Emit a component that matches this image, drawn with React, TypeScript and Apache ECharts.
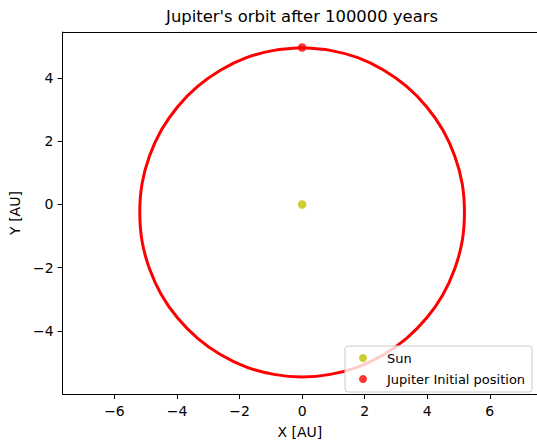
import React, { useEffect, useRef } from "react";
import * as echarts from "echarts";

// Orbit points (AU), listed around the ellipse
const orbitX = [0, 0.9, 1.78, 2.6, 3.34, 3.98, 4.5, 4.88, 5.12, 5.19, 5.12, 4.88, 4.5, 3.98, 3.34, 2.6, 1.78, 0.9,
  0, -0.9, -1.78, -2.6, -3.34, -3.98, -4.5, -4.88, -5.12, -5.19, -5.12, -4.88, -4.5, -3.98, -3.34, -2.6, -1.78, -0.9, 0];
const orbitY = [4.95, 4.87, 4.64, 4.25, 3.73, 3.09, 2.35, 1.53, 0.65, -0.25, -1.15, -2.03, -2.85, -3.59, -4.23, -4.75, -5.14, -5.37,
  -5.45, -5.37, -5.14, -4.75, -4.23, -3.59, -2.85, -2.03, -1.15, -0.25, 0.65, 1.53, 2.35, 3.09, 3.73, 4.25, 4.64, 4.87, 4.95];
const sunPos = [0, 0];
const jupiterStart = [0, 4.96];
const xTicks = [-6, -4, -2, 0, 2, 4, 6];
const yTicks = [-4, -2, 0, 2, 4];
const legendNames = ["Sun", "Jupiter Initial position"];

const FONT = "DejaVu Sans";
const fmt = (v: number) => (v < 0 ? "\u2212" + Math.abs(v) : String(v));

export default function App() {
  const ref = useRef<HTMLDivElement>(null);
  useEffect(() => {
    document.body.style.margin = "0";
    const chart = echarts.init(ref.current!, null, { renderer: "svg" });
    const axisCommon = {
      axisLine: { show: true, onZero: false, lineStyle: { color: "#000", width: 1 } },
      axisTick: { show: true, inside: false, length: 5, lineStyle: { color: "#000", width: 1 } },
      splitLine: { show: false },
    };
    chart.setOption({
      animation: false,
      backgroundColor: "#fff",
      title: {
        text: "Jupiter's orbit after 100000 years",
        left: 302,
        top: 8,
        padding: 0,
        textAlign: "center",
        textStyle: { fontFamily: FONT, fontSize: 16.4, fontWeight: "normal", color: "#000" },
      },
      grid: { left: 62, top: 32, right: 0, bottom: 43, show: false },
      xAxis: [
        {
          type: "value",
          min: -7.66,
          max: 7.51,
          name: "X [AU]",
          nameLocation: "middle",
          nameGap: 31,
          nameTextStyle: { fontFamily: FONT, fontSize: 14, color: "#000" },
          ...axisCommon,
          axisTick: { ...axisCommon.axisTick, customValues: xTicks },
          axisLabel: { customValues: xTicks, formatter: fmt, fontFamily: FONT, fontSize: 14, color: "#000", margin: 10 },
        },
        {
          type: "value",
          position: "top",
          min: -7.66,
          max: 7.51,
          axisLine: { show: true, onZero: false, lineStyle: { color: "#000", width: 1 } },
          axisTick: { show: false },
          axisLabel: { show: false },
          splitLine: { show: false },
        },
      ],
      yAxis: {
        type: "value",
        min: -5.99,
        max: 5.45,
        name: "Y [AU]",
        nameLocation: "middle",
        nameGap: 33,
        nameTextStyle: { fontFamily: FONT, fontSize: 14, color: "#000" },
        ...axisCommon,
        axisTick: { ...axisCommon.axisTick, customValues: yTicks },
        axisLabel: { customValues: yTicks, formatter: fmt, fontFamily: FONT, fontSize: 14, color: "#000", margin: 9 },
      },
      legend: {
        data: legendNames,
        orient: "vertical",
        left: 345,
        top: 346,
        padding: [4, 7, 5, 14],
        itemGap: 5,
        itemWidth: 8,
        itemHeight: 8,
        icon: "circle",
        backgroundColor: "rgba(255,255,255,0.8)",
        borderColor: "#cccccc",
        borderWidth: 1,
        borderRadius: 3,
        textStyle: { fontFamily: FONT, fontSize: 13, color: "#000", lineHeight: 16, padding: [0, 0, 0, 15] },
      },
      series: [
        {
          name: "orbit",
          type: "line",
          data: orbitX.map((x, i) => [x, orbitY[i]]),
          showSymbol: false,
          smooth: 0.3,
          lineStyle: { color: "#ff0000", width: 3 },
          itemStyle: { color: "#ff0000" },
          z: 2,
        },
        {
          name: legendNames[0],
          type: "scatter",
          data: [sunPos],
          symbol: "circle",
          symbolSize: 8.5,
          itemStyle: { color: "#bfbf00" },
          z: 3,
        },
        {
          name: legendNames[1],
          type: "scatter",
          data: [jupiterStart],
          symbol: "circle",
          symbolSize: 8.5,
          itemStyle: { color: "#ff0000" },
          z: 3,
        },
      ],
    });
    return () => chart.dispose();
  }, []);
  return <div ref={ref} style={{ width: 537, height: 444 }} />;
}
